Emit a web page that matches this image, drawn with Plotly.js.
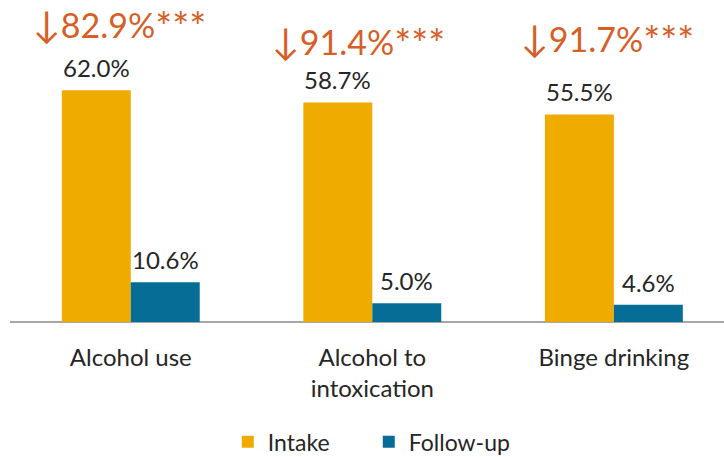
<!DOCTYPE html>
<html>
<head>
<meta charset="utf-8">
<script src="https://cdn.plot.ly/plotly-3.0.1.min.js"></script>
<style>
  body { margin: 0; background: #fff; }
  #chart { width: 724px; height: 457px; }
</style>
</head>
<body>
<div id="chart"></div>
<script>
// categories and values
const categories = ["Alcohol use", "Alcohol to<br>intoxication", "Binge drinking"];
const intake = [62.0, 58.7, 55.5];
const followUp = [10.6, 5.0, 4.6];
const decrease = ["82.9%", "91.4%", "91.7%"];

const orange = "#F0AB00";
const blue = "#066E96";
const red = "#D65F27";
const textColor = "#262626";
const font = "Lato, 'Open Sans', sans-serif";

const xs = [0, 1, 2];

const traces = [
    {
        type: "bar",
        name: "Intake",
        x: xs,
        y: intake,
        marker: { color: orange },
        hoverinfo: "none"
    },
    {
        type: "bar",
        name: "Follow-up",
        x: xs,
        y: followUp,
        marker: { color: blue },
        hoverinfo: "none"
    }
];

// value labels above each bar
let annotations = [];
for (let i = 0; i < xs.length; i++) {
    annotations.push({
        x: xs[i], y: intake[i], xref: "x", yref: "y",
        text: intake[i].toFixed(1) + "%",
        showarrow: false, xshift: -34.5, yshift: 6,
        yanchor: "bottom",
        font: { family: font, size: 24, color: textColor }
    });
    annotations.push({
        x: xs[i], y: followUp[i], xref: "x", yref: "y",
        text: followUp[i].toFixed(1) + "%",
        showarrow: false, xshift: 34.5, yshift: 6,
        yanchor: "bottom",
        font: { family: font, size: 24, color: textColor }
    });
}

// percent decrease headers
const headY = [79.2, 74.6, 75.4];
const headShift = [-11, -14, -6];
for (let i = 0; i < xs.length; i++) {
    annotations.push({
        x: xs[i], y: headY[i], xref: "x", yref: "y",
        text: "<span style='font-size:37px'>↓</span>" + decrease[i] +
              "<span style='font-size:40px;baseline-shift:-4px'>***</span>",
        showarrow: false, xshift: headShift[i],
        yanchor: "middle",
        font: { family: font, size: 34, color: red }
    });
}

const layout = {
    width: 724,
    height: 457,
    margin: { l: 10, r: 0, t: 0, b: 135 },
    paper_bgcolor: "#fff",
    plot_bgcolor: "#fff",
    barmode: "group",
    bargap: 0.429,
    bargroupgap: 0,
    showlegend: true,
    legend: {
        orientation: "h",
        x: 0.305, xanchor: "left",
        yref: "container",
        y: 0.033, yanchor: "middle",
        entrywidth: 96,
        font: { family: font, size: 23, color: textColor },
        itemclick: false
    },
    xaxis: {
        range: [-0.5, 2.456],
        automargin: false,
        tickmode: "array",
        tickvals: xs,
        ticktext: categories,
        ticks: "",
        ticklabelstandoff: 19,
        showgrid: false,
        zeroline: false,
        showline: false,
        tickfont: { family: font, size: 24, color: textColor },
        fixedrange: true
    },
    yaxis: {
        range: [0, 86.1],
        automargin: false,
        showgrid: false,
        zeroline: true,
        zerolinecolor: "#A6A6A6",
        zerolinewidth: 1.5,
        showticklabels: false,
        showline: false,
        fixedrange: true
    },
    annotations: annotations
};

Plotly.newPlot("chart", traces, layout, { displayModeBar: false, staticPlot: true });
</script>
</body>
</html>
